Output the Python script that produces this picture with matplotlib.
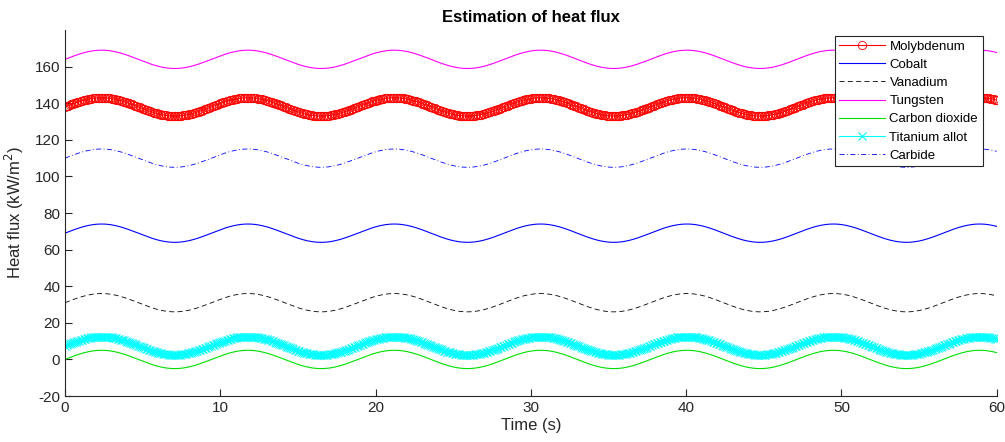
import numpy as np
import matplotlib
matplotlib.use('Agg')
import matplotlib.pyplot as plt

plt.rcParams['font.family'] = ['Liberation Sans', 'DejaVu Sans']
plt.rcParams['axes.unicode_minus'] = False

# values: every series is a sine of the same period
names = ['Molybdenum', 'Cobalt', 'Vanadium', 'Tungsten', 'Carbon dioxide', 'Titanium allot', 'Carbide']
offsets = [138, 69, 31, 164, 0, 7.5, 110]
amplitude = 5
period = 3 * np.pi   # peaks at ~2.4, 11.8, 21.2 ... s
t = np.arange(0, 60.01, 0.1)

styles = [
    dict(color='red', ls='-', marker='o', mfc='none', ms=6, mew=0.6),
    dict(color='blue', ls='-'),
    dict(color='black', ls=(0, (6, 4)), lw=0.6),
    dict(color='magenta', ls='-'),
    dict(color='#00e000', ls='-'),
    dict(color='cyan', ls='-', marker='x', ms=6, mew=0.8),
    dict(color='blue', ls=(0, (6, 3, 1, 3)), lw=0.6),
]

fig = plt.figure(figsize=(10.05, 4.42), dpi=100)
ax = fig.add_axes([0.0647, 0.104, 0.927, 0.828])

for name, off, st in zip(names, offsets, styles):
    y = off + amplitude * np.sin(2 * np.pi * t / period)
    kw = dict(lw=0.8)
    kw.update(st)
    ax.plot(t, y, label=name, **kw)

ax.set_xlim(0, 60)
ax.set_ylim(-20, 180)
ax.set_xticks(np.arange(0, 61, 10))
ax.set_yticks(np.arange(-20, 161, 20))
ax.spines['top'].set_visible(False)
ax.spines['right'].set_visible(False)
for s in ['left', 'bottom']:
    ax.spines[s].set_color('#262626')
    ax.spines[s].set_linewidth(0.8)
ax.tick_params(direction='in', length=5, width=0.8, colors='#262626', labelsize=11)
ax.set_xlabel('Time (s)', fontsize=12, color='#262626', labelpad=2)
ax.set_ylabel('Heat flux (kW/m$^2$)', fontsize=12, color='#262626', labelpad=6)
ax.set_title('Estimation of heat flux', fontsize=12, fontweight='bold', pad=6)

leg = ax.legend(loc='upper right', bbox_to_anchor=(0.985, 0.984), borderaxespad=0,
                fontsize=9.5, fancybox=False, framealpha=1, edgecolor='#262626',
                handlelength=3.5, borderpad=0.35, labelspacing=0.45, handletextpad=0.3)
leg.get_frame().set_linewidth(0.8)

fig.savefig('out.png', dpi=100)
